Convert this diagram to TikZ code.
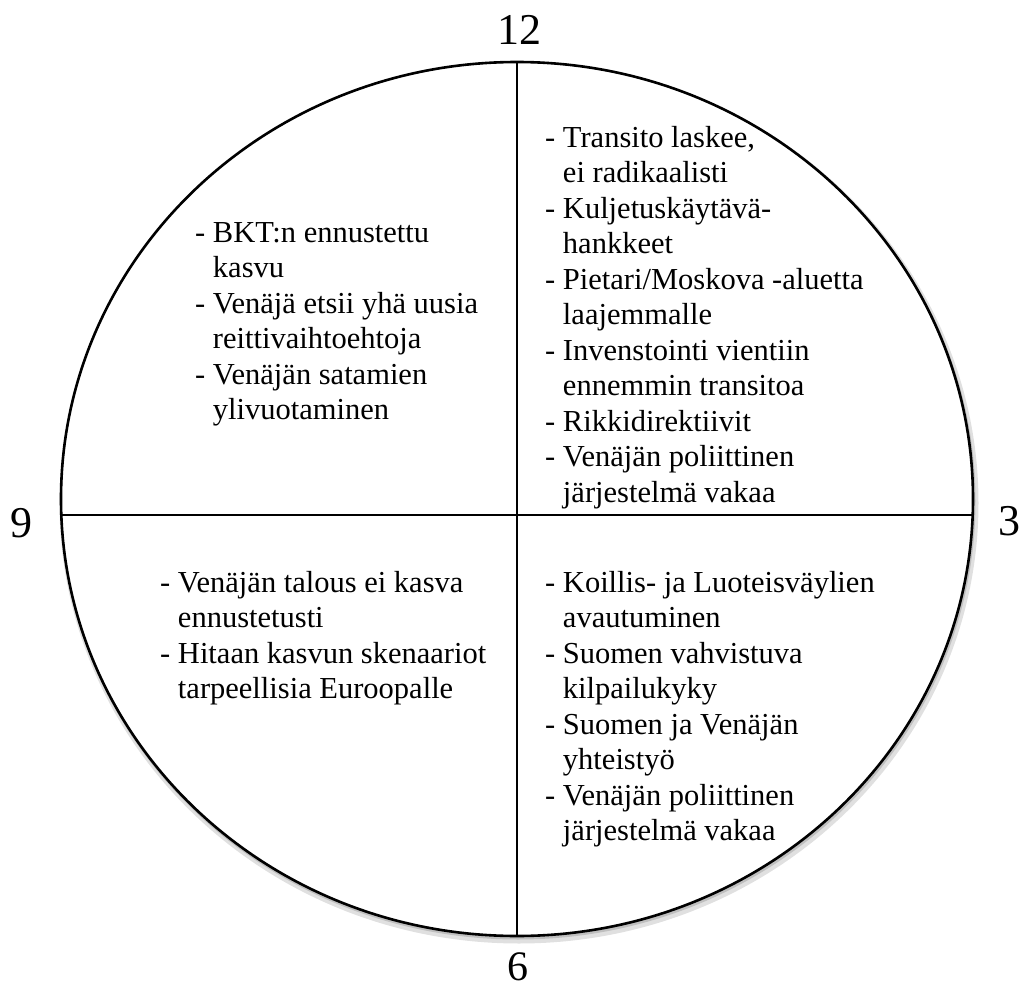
\documentclass[tikz,border=0pt]{standalone}
\usepackage{fontspec}
\setmainfont{Liberation Serif}
\tikzset{
  kohta/.style={anchor=base west, inner sep=0pt, font=\fontsize{30.5}{35.5}\selectfont},
  numero/.style={anchor=base, inner sep=0pt, font=\fontsize{44}{48}\selectfont},
}
\newcommand{\jatko}{\hphantom{- }}
\begin{document}
\begin{tikzpicture}[x=1pt, y=-1pt]
	\useasboundingbox (0,0) rectangle (1021,993);
	%varjo
	\draw[black!12, line width=7pt] (519,503) ellipse (456 and 437);
	\draw[black!25, line width=3pt] (518,501) ellipse (456 and 437);
	\fill[white] (517,499) ellipse (455 and 436);
	\draw[line width=2.6pt] (517,499) ellipse (456 and 437);
	\coordinate (ylos) at (517,62);
	\coordinate (alas) at (517,936);
	\coordinate (vasen) at (61.5,515);
	\coordinate (oikea) at (972.5,515);
	\draw[line width=1.8pt] (ylos)--(alas);
	\draw[line width=1.8pt] (vasen)--(oikea);
	% kellonajat
	\node[numero] (n12) at (519,45) {12};
	\node[numero, font=\fontsize{42}{46}\selectfont] (n6) at (518,980) {6};
	\node[numero] (n9) at (21,537) {9};
	\node[numero, anchor=base west] (n3) at (998,535) {3};
	% neljannekset
	\node[kohta] (vy) at (195,242) {\begin{tabular}[t]{@{}l@{}}
		- BKT:n ennustettu\\
		\jatko kasvu\\
		- Venäjä etsii yhä uusia\\
		\jatko reittivaihtoehtoja\\
		- Venäjän satamien\\
		\jatko ylivuotaminen
	\end{tabular}};
	\node[kohta] (oy) at (545,147) {\begin{tabular}[t]{@{}l@{}}
		- Transito laskee,\\
		\jatko ei radikaalisti\\
		- Kuljetuskäytävä-\\
		\jatko hankkeet\\
		- Pietari/Moskova -aluetta\\
		\jatko laajemmalle\\
		- Invenstointi vientiin\\
		\jatko ennemmin transitoa\\
		- Rikkidirektiivit\\
		- Venäjän poliittinen\\
		\jatko järjestelmä vakaa
	\end{tabular}};
	\node[kohta] (va) at (160,592) {\begin{tabular}[t]{@{}l@{}}
		- Venäjän talous ei kasva\\
		\jatko ennustetusti\\
		- Hitaan kasvun skenaariot\\
		\jatko tarpeellisia Euroopalle
	\end{tabular}};
	\node[kohta] (oa) at (545,592) {\begin{tabular}[t]{@{}l@{}}
		- Koillis- ja Luoteisväylien\\
		\jatko avautuminen\\
		- Suomen vahvistuva\\
		\jatko kilpailukyky\\
		- Suomen ja Venäjän\\
		\jatko yhteistyö\\
		- Venäjän poliittinen\\
		\jatko järjestelmä vakaa
	\end{tabular}};
\end{tikzpicture}
\end{document}
